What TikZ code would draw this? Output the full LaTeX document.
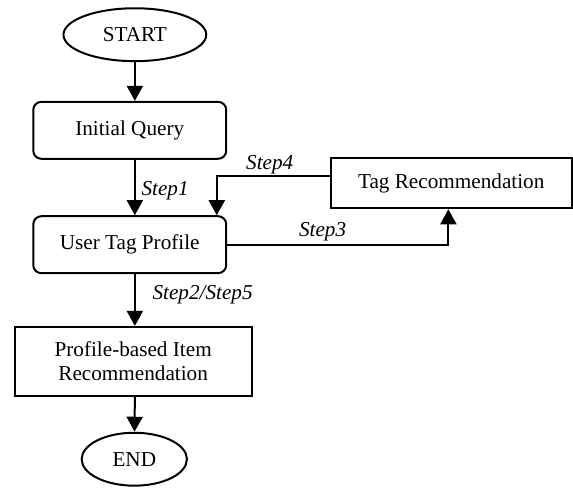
\documentclass[tikz,border=0pt]{standalone}
\usepackage{fontspec}
\setmainfont{Liberation Serif}
\usetikzlibrary{calc, positioning, shapes.geometric, arrows.meta}

\begin{document}
\begin{tikzpicture}[line width=1pt, >={Triangle[width=8pt,length=7.5pt]},
        font=\fontsize{10.6}{12}\selectfont,
        terminal/.style={draw, ellipse, inner sep=0pt},
        roundbox/.style={draw, rectangle, rounded corners=4pt, inner sep=0pt, minimum width=3.39cm, minimum height=1cm, align=center},
        plainbox/.style={draw, rectangle, inner sep=0pt, align=center},
        steplabel/.style={font=\fontsize{10.6}{12}\selectfont\itshape, inner sep=0pt}]
        \useasboundingbox (0,0) rectangle (10.07,-8.56);

        \node (start) [terminal, minimum width=2.51cm, minimum height=0.93cm] at (2.37,-0.61) {START};
        \node (query) [roundbox] at (2.28,-2.29) {Initial Query};
        \node (profile) [roundbox] at (2.28,-4.30) {User Tag Profile};
        \node (tagrec) [plainbox, minimum width=4.24cm, minimum height=0.88cm] at (7.93,-3.22) {Tag Recommendation};
        \node (itemrec) [plainbox, minimum width=4.17cm, minimum height=1.21cm] at (2.34,-6.35) {Profile-based Item\\Recommendation};
        \node (end) [terminal, minimum width=1.85cm, minimum height=0.93cm] at (2.36,-8.07) {END};

        \draw[->] (start) -- (start |- query.north);
        \draw[->] (start |- query.south) -- (start |- profile.north);
        \draw[->] ([yshift=0.12cm]tagrec.west) -| ([xshift=1.53cm]profile.north);
        \draw[->] (profile.east) -| ([xshift=-0.05cm]tagrec.south);
        \draw[->] (start |- profile.south) -- (start |- itemrec.north);
        \draw[->] (start |- itemrec.south) -- (end);

        \node (lbl1) [steplabel, anchor=west] at (2.47,-3.36) {Step1};
        \node (lbl4) [steplabel] at (4.74,-2.90) {Step4};
        \node (lbl3) [steplabel] at (5.67,-4.08) {Step3};
        \node (lbl25) [steplabel] at (3.56,-5.18) {Step2/Step5};
    \end{tikzpicture}
\end{document}
